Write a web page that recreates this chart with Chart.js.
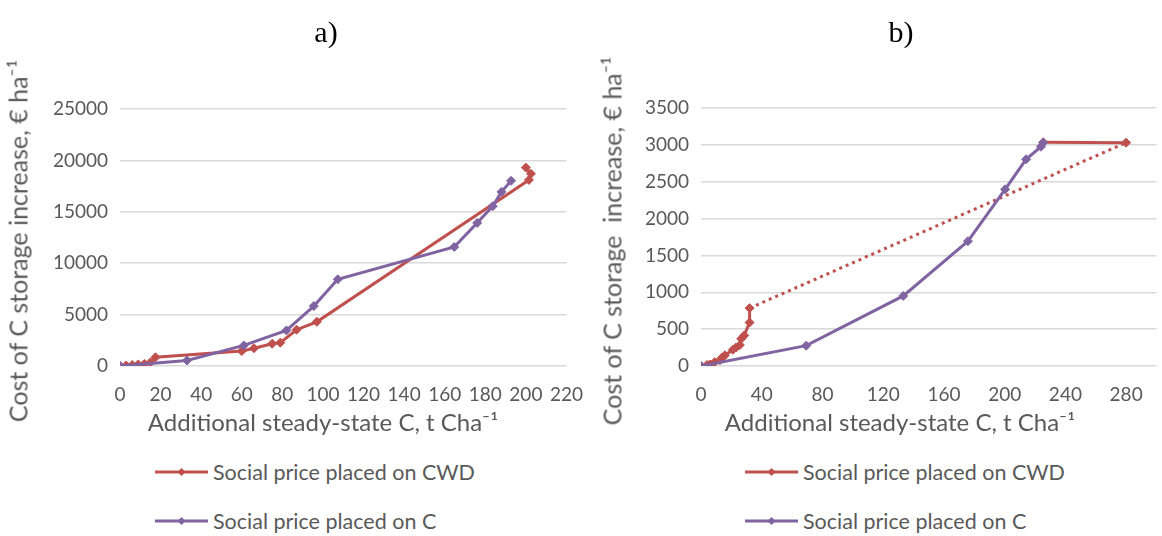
<!DOCTYPE html>
<html><head><meta charset="utf-8">
<script src="https://cdn.jsdelivr.net/npm/chart.js@4/dist/chart.umd.min.js"></script>
<style>
html,body{margin:0;padding:0;background:#fff;}
#wrap{position:relative;width:1162px;height:536px;overflow:hidden;font-family:Lato,sans-serif;color:#595959;}
canvas{position:absolute;top:0;}
.t{position:absolute;white-space:pre;transform:translate(-50%,-50%);line-height:1;}
.rot{transform:translate(-50%,-50%) rotate(-90deg);}
.panel{font-family:'Liberation Serif',serif;color:#000;font-size:30px;}
.ax{font-size:24px;}
.ay{font-size:25px;}
.leg{position:absolute;display:flex;align-items:center;font-size:21.5px;white-space:pre;transform:translateY(-50%);}
.leg svg{margin-right:5px;}
</style></head>
<body><div id="wrap">
<canvas id="cA" width="600" height="440" style="left:0"></canvas>
<canvas id="cB" width="582" height="440" style="left:580px"></canvas>
</div>
<script>
// ---- data ----
const seriesNames = ['Social price placed on CWD', 'Social price placed on C'];
const panelTitles = ['a)', 'b)'];
const yTitles = ['Cost of C storage increase, € ha⁻¹', 'Cost of C storage  increase, € ha⁻¹'];
const xTitle = 'Additional steady-state C, t Cha⁻¹';

// panel a
const aCwdX = [0, 3, 6, 9, 12, 15, 17.5, 60, 66, 75, 79, 87, 97, 201.5, 202.5, 200];
const aCwdY = [0, 50, 100, 150, 200, 350, 850, 1450, 1730, 2170, 2270, 3530, 4300, 18100, 18700, 19300];
const aCX = [0, 33, 61, 82, 95.5, 107.3, 164.7, 176, 183.7, 188, 192.7];
const aCY = [0, 540, 2000, 3460, 5830, 8430, 11580, 13920, 15550, 16940, 18010];
const aXTicks = [0, 20, 40, 60, 80, 100, 120, 140, 160, 180, 200, 220];
const aYTicks = [0, 5000, 10000, 15000, 20000, 25000];

// panel b
const bCwdX = [0, 4, 6, 9, 12.5, 14, 15.7, 21, 23, 25.6, 26.5, 28.5, 32, 32, 280, 225.4];
const bCwdY = [0, 15, 20, 52, 80, 115, 145, 220, 250, 285, 370, 415, 590, 785, 3030, 3035];
const bCX = [0, 69.3, 133.2, 175.8, 200.3, 214.1, 223.9, 225.4];
const bCY = [0, 276, 951, 1694, 2397, 2804, 2975, 3030];
const bXTicks = [0, 40, 80, 120, 160, 200, 240, 280];
const bYTicks = [0, 500, 1000, 1500, 2000, 2500, 3000, 3500];
const bDottedFrom = 13; // segment drawn dotted (from this point to next)

// ---- styling / building ----
const RED = '#C0504D', PURPLE = '#8064A2', GRID = '#D9D9D9', TXT = '#595959';
const pts = (xs, ys) => xs.map((x, i) => ({x: x, y: ys[i]}));

function makeChart(id, cwd, c, xTicks, xMax, yTicks, cfg) {
  const ds = (label, data, color, order, extra) => Object.assign({
    label: label, data: data, showLine: true, borderColor: color, backgroundColor: color,
    borderWidth: 3, pointStyle: 'rectRot', pointRadius: 4.5, pointBorderWidth: 1,
    pointBorderColor: color, tension: 0, order: order
  }, extra || {});
  new Chart(document.getElementById(id), {
    type: 'scatter',
    data: {datasets: [
      ds(seriesNames[0], cwd, RED, 2, {segment: {borderDash: ctx => (cfg.dotted !== undefined && ctx.p0DataIndex === cfg.dotted) ? [3, 4] : undefined}}),
      ds(seriesNames[1], c, PURPLE, 1)
    ]},
    options: {
      responsive: false, animation: false,
      layout: {padding: {top: cfg.top, right: cfg.right, left: 0, bottom: 0}},
      plugins: {legend: {display: false}, tooltip: {enabled: false}},
      scales: {
        x: {type: 'linear', min: 0, max: xMax,
          afterBuildTicks: s => { s.ticks = xTicks.map(v => ({value: v})); },
          afterFit: s => { s.height = cfg.xh; },
          grid: {display: false, drawTicks: false}, border: {display: false},
          ticks: {color: TXT, font: {family: 'Lato', size: 19}, padding: 17, maxRotation: 0, autoSkip: false,
                  callback: v => String(v)}},
        y: {type: 'linear', min: 0, max: yTicks[yTicks.length - 1],
          afterBuildTicks: s => { s.ticks = yTicks.map(v => ({value: v})); },
          afterFit: s => { s.width = cfg.yw; },
          grid: {color: GRID, lineWidth: 1.5, drawTicks: false}, border: {display: false},
          ticks: {color: TXT, font: {family: 'Lato', size: 19}, padding: 12, autoSkip: false,
                  callback: v => String(v)}}
      }
    }
  });
}

makeChart('cA', pts(aCwdX, aCwdY), pts(aCX, aCY), aXTicks, 220, aYTicks, {top: 109, right: 29, yw: 120, xh: 74});
makeChart('cB', pts(bCwdX, bCwdY), pts(bCX, bCY), bXTicks, 300, bYTicks, {top: 108, right: 3, yw: 121, xh: 74, dotted: bDottedFrom});

// ---- text (titles, axis titles, legends) ----
const wrap = document.getElementById('wrap');
function addText(txt, cls, x, y) {
  const d = document.createElement('div');
  d.className = 't ' + cls; d.textContent = txt;
  d.style.left = x + 'px'; d.style.top = y + 'px';
  wrap.appendChild(d);
}
addText(panelTitles[0], 'panel', 326, 32);
addText(panelTitles[1], 'panel', 901, 32);
addText(yTitles[0], 'ay rot', 18, 241);
addText(yTitles[1], 'ay rot', 612, 241);
addText(xTitle, 'ax', 323, 422);
addText(xTitle, 'ax', 900, 422);

function addLegend(x, y, name, color) {
  const d = document.createElement('div');
  d.className = 'leg'; d.style.left = x + 'px'; d.style.top = y + 'px';
  d.innerHTML = '<svg width="53" height="12"><line x1="0" y1="6" x2="53" y2="6" stroke="' + color +
    '" stroke-width="3"/><path d="M26.5 2 L30.5 6 L26.5 10 L22.5 6Z" fill="' + color + '"/></svg>';
  const s = document.createElement('span'); s.textContent = name; d.appendChild(s);
  wrap.appendChild(d);
}
addLegend(155, 472, seriesNames[0], RED);
addLegend(155, 521, seriesNames[1], PURPLE);
addLegend(745, 472, seriesNames[0], RED);
addLegend(745, 521, seriesNames[1], PURPLE);
</script>
</body></html>
